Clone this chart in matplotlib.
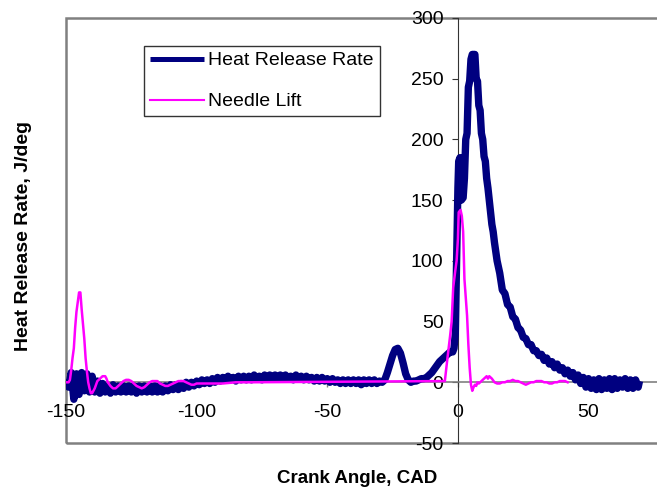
import matplotlib
matplotlib.use("Agg")
import matplotlib.pyplot as plt
from matplotlib.patches import Rectangle

plt.rcParams['font.family'] = ['Liberation Sans', 'DejaVu Sans']
plt.rcParams['axes.unicode_minus'] = False

# ---- Heat release rate (J/deg) ----
hrr_cad = [
    -150, -149, -148, -147, -146, -145, -144, -143, -142, -141, -140, -139, -138, -137, -136, -135,
    -134, -133, -132, -131, -130, -129, -128, -127, -126, -125, -124, -123, -122, -121, -120, -119,
    -118, -117, -116, -115, -114, -113, -112, -111, -110, -109, -108, -107, -106, -105, -104, -103,
    -102, -101, -100, -99, -98, -97, -96, -95, -94, -93, -92, -91, -90, -89, -88, -87, -86, -85,
    -84, -83, -82, -81, -80, -79, -78, -77, -76, -75, -74, -73, -72, -71, -70, -69, -68, -67, -66,
    -65, -64, -63, -62, -61, -60, -59, -58, -57, -56, -55, -54, -53, -52, -51, -50, -49, -48, -47,
    -46, -45, -44, -43, -42, -41, -40, -39, -38, -37, -36, -35, -34, -33, -32, -31, -30, -29, -28,
    -27, -26, -25, -24, -23, -22, -21, -20, -19, -18, -17, -16, -15, -14, -13, -12, -11, -10, -9,
    -8, -7, -6, -5, -4, -3, -2, -1.5, -1, -0.5, 0, 0.3, 0.8, 1.3, 2, 2.5, 3, 3.5, 4, 4.5, 5, 5.5,
    6.5, 7, 7.5, 8, 8.5, 9, 9.5, 10, 10.5, 11, 11.5, 12, 12.5, 13, 13.5, 14, 15, 16, 17, 18, 19, 20,
    21, 22, 23, 24, 25, 26, 27, 28, 29, 30, 31, 32, 33, 34, 35, 36, 37, 38, 39, 40, 41, 42, 43, 44,
    45, 46, 47, 48, 49, 50, 51, 52, 53, 54, 55, 56, 57, 58, 59, 60, 61, 62, 63, 64, 65, 66, 67, 68,
    69, 69.5,
]
hrr_val = [
    2, -4, 8, -14, 7, -10, 8, -7, 7, -8, 5, -8, 1, -9, -1, -8,
    -3, -9, -2, -8, -3, -8, -3, -8, -3, -8, -3, -9, -3, -8, -3, -8,
    -3, -8, -3, -8, -3, -8, -3, -7, -2, -6, -2, -6, -1, -5, 0, -4,
    0, -3, 1, -2, 2, -1, 2, -1, 3, 0, 4, 1, 4, 2, 5, 2, 4, 1,
    5, 2, 5, 2, 5, 2, 6, 3, 5, 2, 6, 3, 6, 3, 6, 3, 6, 3, 6,
    3, 5, 2, 6, 3, 5, 2, 5, 2, 4, 1, 4, 1, 4, 1, 3, 0, 3, 0,
    2, -1, 2, -1, 2, -1, 2, -1, 2, -2, 2, -1, 2, -1, 2, -1, 1, 0, 2,
    8, 15, 22, 27, 28, 24, 16, 7, 2, 0, 1, 1, 2, 3, 3, 4, 6, 8, 11,
    14, 17, 19, 21, 23, 25, 25, 28, 40, 100, 160, 182, 185, 150, 152, 168, 200, 205, 243, 248, 266, 270,
    270, 250, 248, 228, 224, 205, 200, 186, 182, 168, 160, 150, 140, 130, 124, 115, 100, 90, 76, 73, 64, 62,
    54, 52, 45, 43, 37, 36, 31, 31, 26, 26, 22, 23, 18, 20, 15, 17, 12, 15, 10, 12, 7, 10, 5, 8,
    2, 6, -1, 4, -4, 3, -5, 2, -6, 3, -6, 2, -5, 3, -6, 3, -5, 2, -4, 3, -5, 2, -5, 2,
    -4, 1,
]

# ---- Needle lift (scaled) ----
nl_cad = [
    -150, -149, -148.5, -148, -147.5, -147, -146.5, -146, -145.5, -145, -144.5, -144, -143.5, -143,
    -142.5, -142, -141.5, -141, -140.5, -140, -139, -138, -137, -136, -135, -134.5, -134, -133, -132,
    -131, -130, -129, -128, -127, -126, -125, -124, -123, -122, -121, -120, -119, -118, -117, -116,
    -115, -114, -113, -112, -111, -110, -109, -108, -107, -106, -105, -104, -103, -102, -101, -100,
    -95, -90, -85, -80, -5, -4, -3, -2.4, -1.8, -1, -0.5, 0, 0.3, 1, 1.5, 2, 2.5, 3, 3.5, 4, 4.5,
    5, 5.5, 6, 6.5, 7, 7.5, 8, 9, 10, 11, 11.5, 12, 13, 14, 15, 16, 17, 18, 19, 20, 21, 22, 23, 24,
    25, 26, 27, 28, 29, 30, 31, 32, 33, 34, 35, 36, 37, 38, 39, 40, 41, 42,
]
nl_val = [
    0, 0, 2, 10, 20, 28, 45, 58, 66, 74, 74, 60, 48, 36,
    20, 9, 0, -5, -9, -9, -5, 1, 3, 5, 5, 3, 0, -3, -5,
    -5, -3, -1, 1, 2, 2, 1, -1, -3, -4, -5, -4, -2, 0, 1, 1,
    1, -1, -2, -3, -3, -2, -1, 0, 1, 1, 1, 0, -1, -2, -2, -1,
    -1, -1, 0, 0, 1, 20, 38, 50, 78, 92, 100, 118, 140, 142, 137, 124, 85, 70, 55, 31, 12,
    -2, -7, -4, -2, -3, 0, -1, 1, 3, 5, 3, 5, 3, 0, -1, -1, 0, 0, 1, 1, 2, 1, 1, 0,
    -1, -2, -1, 0, 0, 1, 1, 1, 0, 0, -1, -1, 0, 0, 1, 1, 1, 0,
]

x_ticks = [-150, -100, -50, 0, 50]
y_ticks = [-50, 0, 50, 100, 150, 200, 250, 300]

fig = plt.figure(figsize=(6.57, 4.94), dpi=100)
ax = fig.add_axes([66 / 657, 1 - 443 / 494, (657 - 66) / 657, (443 - 18) / 494])

ax.plot(hrr_cad, hrr_val, color='#000080', lw=5.3, solid_joinstyle='round',
        solid_capstyle='butt', label='Heat Release Rate', zorder=3)
ax.plot(nl_cad, nl_val, color='#FF00FF', lw=1.8, solid_joinstyle='round',
        label='Needle Lift', zorder=4)

ax.set_xlim(-150, 76.2)
ax.set_ylim(-50, 300)
ax.set_xticks(x_ticks)
ax.set_yticks(y_ticks)

# axes crossing at zero
ax.spines['left'].set_position(('data', 0))
ax.spines['bottom'].set_position(('data', 0))
ax.spines['left'].set_color('#333333')
ax.spines['left'].set_linewidth(0.8)
ax.spines['bottom'].set_color('#808080')
ax.spines['bottom'].set_linewidth(1.2)
ax.spines['top'].set_visible(False)
ax.spines['right'].set_visible(False)

ax.tick_params(axis='y', direction='out', length=4.3, width=0.8, color='#333333',
               labelsize=14, pad=6)
ax.tick_params(axis='x', direction='out', length=3.5, width=1.0, color='#808080',
               labelsize=14, pad=12)

# plot-area frame
ax.add_patch(Rectangle((0, 0), 1.2, 1, transform=ax.transAxes, fill=False,
                       edgecolor='#808080', lw=1.8, clip_on=False, zorder=1))

fig.text(357 / 657, 1 - 478 / 494, 'Crank Angle, CAD', ha='center', va='center',
         fontsize=13.5, fontweight='bold')
fig.text(23.5 / 657, 1 - 236 / 494, 'Heat Release Rate, J/deg', ha='center', va='center',
         rotation=90, fontsize=14, fontweight='bold')

leg = ax.legend(loc='upper left', bbox_to_anchor=(0.132, 0.934), borderaxespad=0,
                fontsize=14, frameon=True, fancybox=False, handlelength=2.8,
                handletextpad=0.2, labelspacing=1.2, borderpad=0.3)
leg.get_frame().set_edgecolor('black')
leg.get_frame().set_linewidth(1.0)
leg.legend_handles[0].set_linewidth(3.6)
leg.legend_handles[1].set_linewidth(1.5)

fig.savefig('out.png', dpi=100)
